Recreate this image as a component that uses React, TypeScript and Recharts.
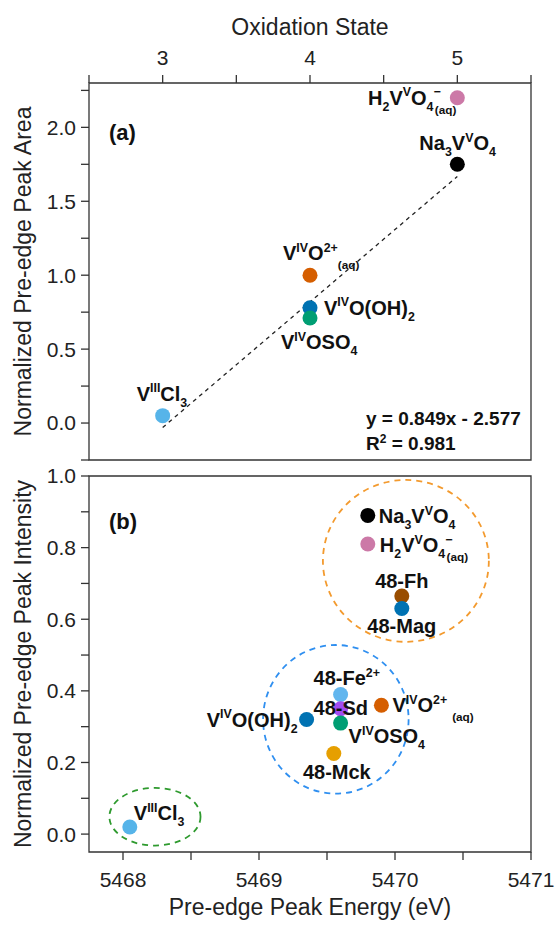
import React from "react";
import {
  ScatterChart,
  Scatter,
  XAxis,
  YAxis,
  ReferenceLine,
  ReferenceArea,
} from "recharts";

const FONT = '"Liberation Sans", Arial, Helvetica, sans-serif';
const INK = "#222";
const FRAME = "#333";

// panel (a): pre-edge peak area against formal oxidation state
const areaNames = ["VCl3", "VO(OH)2", "VOSO4", "VO2+", "Na3VO4", "H2VO4-"];
const areaOxidation = [3, 4, 4, 4, 5, 5];
const areaValues = [0.05, 0.78, 0.71, 1.0, 1.75, 2.2];

// linear fit through the standards
const fitSlope = 0.849;
const fitIntercept = -2.577;
const fitR2 = 0.981;
const fitRange = [3, 5];

const oxidationTicks = [2.5, 3, 3.5, 4, 4.5, 5, 5.5];
const areaTicks = [-0.25, 0, 0.25, 0.5, 0.75, 1, 1.25, 1.5, 1.75, 2, 2.25];

// panel (b): pre-edge peak intensity against pre-edge peak energy
const intensityNames = [
  "Na3VO4",
  "H2VO4-",
  "48-Fh",
  "48-Mag",
  "48-Fe2+",
  "48-Sd",
  "VO(OH)2",
  "VOSO4",
  "VO2+",
  "48-Mck",
  "VCl3",
];
const intensityEnergy = [
  5469.8, 5469.8, 5470.05, 5470.05, 5469.6, 5469.6, 5469.35, 5469.6, 5469.9,
  5469.55, 5468.05,
];
const intensityValues = [
  0.89, 0.81, 0.665, 0.63, 0.39, 0.35, 0.32, 0.31, 0.36, 0.225, 0.02,
];

const energyTicks = [5468, 5468.5, 5469, 5469.5, 5470, 5470.5, 5471];
const intensityTicks = [0, 0.1, 0.2, 0.3, 0.4, 0.5, 0.6, 0.7, 0.8, 0.9, 1.0];

// dashed rings around the V(V), V(IV) and V(III) groups
const groupEnergyMin = [5469.47, 5469.03, 5467.9];
const groupEnergyMax = [5470.69, 5470.1, 5468.57];
const groupIntensityMin = [0.537, 0.113, -0.032];
const groupIntensityMax = [0.989, 0.528, 0.129];

const groupColors = ["#F39A2E", "#2F8FF0", "#2E9A2E"];

const pointColors: Record<string, string> = {
  VCl3: "#56B4E9",
  "VO(OH)2": "#0072B2",
  VOSO4: "#009E73",
  "VO2+": "#D55E00",
  Na3VO4: "#000000",
  "H2VO4-": "#CC79A7",
  "48-Fh": "#994D00",
  "48-Mag": "#0072B2",
  "48-Fe2+": "#62B6EE",
  "48-Sd": "#A24CF0",
  "48-Mck": "#E69F00",
};

type Part = { t: string; s?: "sup" | "sub" | "aq" };

const labelParts: Record<string, Part[]> = {
  VCl3: [{ t: "V" }, { t: "III", s: "sup" }, { t: "Cl" }, { t: "3", s: "sub" }],
  "VO(OH)2": [
    { t: "V" },
    { t: "IV", s: "sup" },
    { t: "O(OH)" },
    { t: "2", s: "sub" },
  ],
  VOSO4: [{ t: "V" }, { t: "IV", s: "sup" }, { t: "OSO" }, { t: "4", s: "sub" }],
  "VO2+": [
    { t: "V" },
    { t: "IV", s: "sup" },
    { t: "O" },
    { t: "2+", s: "sup" },
    { t: "(aq)", s: "aq" },
  ],
  Na3VO4: [
    { t: "Na" },
    { t: "3", s: "sub" },
    { t: "V" },
    { t: "V", s: "sup" },
    { t: "O" },
    { t: "4", s: "sub" },
  ],
  "H2VO4-": [
    { t: "H" },
    { t: "2", s: "sub" },
    { t: "V" },
    { t: "V", s: "sup" },
    { t: "O" },
    { t: "4", s: "sub" },
    { t: "\u2212", s: "sup" },
    { t: "(aq)", s: "aq" },
  ],
  "48-Fh": [{ t: "48-Fh" }],
  "48-Mag": [{ t: "48-Mag" }],
  "48-Fe2+": [{ t: "48-Fe" }, { t: "2+", s: "sup" }],
  "48-Sd": [{ t: "48-Sd" }],
  "48-Mck": [{ t: "48-Mck" }],
};

type Placement = {
  dx: number;
  dy: number;
  anchor?: "start" | "middle" | "end";
  aqGap?: number;
};

// label offsets from the marker centre, in pixels
const areaLabelPlacement: Record<string, Placement> = {
  VCl3: { dx: -26, dy: -15 },
  "VO(OH)2": { dx: 14, dy: 7 },
  VOSO4: { dx: -29, dy: 31 },
  "VO2+": { dx: -27, dy: -15, aqGap: 0 },
  Na3VO4: { dx: -38, dy: -14 },
  "H2VO4-": { dx: -1, dy: 7, anchor: "end" },
};

const intensityLabelPlacement: Record<string, Placement> = {
  Na3VO4: { dx: 11, dy: 8 },
  "H2VO4-": { dx: 12, dy: 8 },
  "48-Fh": { dx: 0, dy: -8, anchor: "middle" },
  "48-Mag": { dx: 0, dy: 25, anchor: "middle" },
  "48-Fe2+": { dx: -27, dy: -9 },
  "48-Sd": { dx: -27, dy: 6 },
  "VO(OH)2": { dx: -9, dy: 7, anchor: "end" },
  VOSO4: { dx: 8, dy: 20 },
  "VO2+": { dx: 11, dy: 7, aqGap: 5 },
  "48-Mck": { dx: 3, dy: 25, anchor: "middle" },
  VCl3: { dx: 4, dy: -7 },
};

const areaData = areaNames.map((name, i) => ({
  name,
  x: areaOxidation[i],
  y: areaValues[i],
}));

const intensityData = intensityNames.map((name, i) => ({
  name,
  x: intensityEnergy[i],
  y: intensityValues[i],
}));

const fitLine = fitRange.map((x) => ({ x, y: fitSlope * x + fitIntercept }));

const LABEL_SIZE = 20;

function RichText({
  x,
  y,
  parts,
  anchor = "start",
  aqGap = 0,
}: {
  x: number;
  y: number;
  parts: Part[];
  anchor?: "start" | "middle" | "end";
  aqGap?: number;
}) {
  const small = LABEL_SIZE * 0.62;
  let level = 0;
  return (
    <text
      x={x}
      y={y}
      textAnchor={anchor}
      fontFamily={FONT}
      fontWeight="bold"
      fontSize={LABEL_SIZE}
      fill="#111"
    >
      {parts.map((p, i) => {
        const target =
          p.s === "sup"
            ? -0.42 * LABEL_SIZE
            : p.s === "sub"
              ? 0.3 * LABEL_SIZE
              : p.s === "aq"
                ? 0.45 * LABEL_SIZE
                : 0;
        const dy = target - level;
        level = target;
        const prev = parts[i - 1];
        let dx = 0;
        if (p.s === "aq") dx = prev && prev.t === "\u2212" ? -6 : aqGap;
        return (
          <tspan
            key={i}
            dx={dx}
            dy={dy}
            fontSize={p.s ? (p.s === "aq" ? small * 0.95 : small) : LABEL_SIZE}
          >
            {p.t}
          </tspan>
        );
      })}
    </text>
  );
}

const Dot = (props: any) => {
  const { cx, cy, payload } = props;
  return <circle cx={cx} cy={cy} r={7.5} fill={pointColors[payload.name]} />;
};

const makeLabelShape = (placement: Record<string, Placement>) => (props: any) => {
  const { cx, cy, payload } = props;
  const p = placement[payload.name];
  return (
    <RichText
      x={cx + p.dx}
      y={cy + p.dy}
      parts={labelParts[payload.name]}
      anchor={p.anchor}
      aqGap={p.aqGap}
    />
  );
};

const Ring = (color: string) => (props: any) => {
  const { x, y, width, height } = props;
  return (
    <ellipse
      cx={x + width / 2}
      cy={y + height / 2}
      rx={width / 2}
      ry={height / 2}
      fill="none"
      stroke={color}
      strokeWidth={1.8}
      strokeDasharray="6 5"
    />
  );
};

const AxisTitleX = (props: any) => {
  const { viewBox, text, baseline } = props;
  return (
    <text
      x={viewBox.x + viewBox.width / 2}
      y={viewBox.y + baseline}
      textAnchor="middle"
      fontFamily={FONT}
      fontSize={23}
      fill={INK}
    >
      {text}
    </text>
  );
};

const AxisTitleY = (props: any) => {
  const { viewBox, text } = props;
  const x = 31;
  const y = viewBox.y + viewBox.height / 2;
  return (
    <text
      x={x}
      y={y}
      transform={`rotate(-90, ${x}, ${y})`}
      textAnchor="middle"
      fontFamily={FONT}
      fontSize={23}
      fill={INK}
    >
      {text}
    </text>
  );
};

const PanelNotes = (props: any) => {
  const { viewBox, tag, tagDy, showFit } = props;
  return (
    <g fontFamily={FONT} fontWeight="bold" fill="#111">
      <text x={viewBox.x + 20} y={viewBox.y + tagDy} fontSize={22}>
        {tag}
      </text>
      {showFit && (
        <>
          <text x={viewBox.x + 277} y={viewBox.y + 342} fontSize={19}>
            {`y = ${fitSlope}x - ${Math.abs(fitIntercept)}`}
          </text>
          <text x={viewBox.x + 277} y={viewBox.y + 367} fontSize={19}>
            R<tspan dy={-7} fontSize={12}>2</tspan>
            <tspan dy={7}>{` = ${fitR2}`}</tspan>
          </text>
        </>
      )}
    </g>
  );
};

const tickStyle = { fill: INK, fontSize: 21, fontFamily: FONT };
const tickLineStyle = { stroke: FRAME, strokeWidth: 1.3 };

const integerOnly = (v: number) => (Number.isInteger(v) ? String(v) : "");
const halfSteps = (v: number) =>
  Number.isInteger(v * 2) ? v.toFixed(1) : "";
const fifthSteps = (v: number) =>
  Math.round(v * 10) % 2 === 0 ? v.toFixed(1) : "";

function AreaPanel() {
  return (
    <ScatterChart
      width={555}
      height={466}
      margin={{ top: 0, right: 24, bottom: 6, left: 0 }}
    >
      <XAxis
        type="number"
        dataKey="x"
        orientation="top"
        height={83}
        domain={[2.5, 5.5]}
        ticks={oxidationTicks}
        interval={0}
        tickFormatter={integerOnly}
        tick={tickStyle}
        tickLine={tickLineStyle}
        tickSize={8}
        tickMargin={10}
        axisLine={false}
        allowDataOverflow
        label={<AxisTitleX text="Oxidation State" baseline={35} />}
      />
      <YAxis
        type="number"
        dataKey="y"
        width={89}
        domain={[-0.25, 2.3]}
        ticks={areaTicks}
        interval={0}
        tickFormatter={halfSteps}
        tick={tickStyle}
        tickLine={tickLineStyle}
        tickSize={8}
        tickMargin={5}
        axisLine={false}
        allowDataOverflow
        label={<AxisTitleY text="Normalized Pre-edge Peak Area" />}
      />
      <ReferenceArea
        x1={2.5}
        x2={5.5}
        y1={-0.25}
        y2={2.3}
        fill="none"
        stroke={FRAME}
        strokeWidth={1.3}
        label={<PanelNotes tag="(a)" tagDy={57} showFit />}
      />
      <ReferenceLine
        segment={fitLine}
        stroke="#222"
        strokeWidth={1.3}
        strokeDasharray="4 4"
      />
      <Scatter data={areaData} shape={Dot} isAnimationActive={false} />
      <Scatter
        data={areaData}
        shape={makeLabelShape(areaLabelPlacement)}
        isAnimationActive={false}
      />
    </ScatterChart>
  );
}

function IntensityPanel() {
  return (
    <ScatterChart
      width={555}
      height={477}
      margin={{ top: 26, right: 24, bottom: 0, left: 0 }}
    >
      <XAxis
        type="number"
        dataKey="x"
        height={75}
        domain={[5467.75, 5471]}
        ticks={energyTicks}
        interval={0}
        tickFormatter={integerOnly}
        tick={tickStyle}
        tickLine={tickLineStyle}
        tickSize={8}
        tickMargin={12}
        axisLine={false}
        allowDataOverflow
        label={<AxisTitleX text="Pre-edge Peak Energy (eV)" baseline={63} />}
      />
      <YAxis
        type="number"
        dataKey="y"
        width={89}
        domain={[-0.05, 1.0]}
        ticks={intensityTicks}
        interval={0}
        tickFormatter={fifthSteps}
        tick={tickStyle}
        tickLine={tickLineStyle}
        tickSize={8}
        tickMargin={5}
        axisLine={false}
        allowDataOverflow
        label={<AxisTitleY text="Normalized Pre-edge Peak Intensity" />}
      />
      <ReferenceArea
        x1={5467.75}
        x2={5471}
        y1={-0.05}
        y2={1.0}
        fill="none"
        stroke={FRAME}
        strokeWidth={1.3}
        label={<PanelNotes tag="(b)" tagDy={53} />}
      />
      {groupColors.map((color, i) => (
        <ReferenceArea
          key={color}
          x1={groupEnergyMin[i]}
          x2={groupEnergyMax[i]}
          y1={groupIntensityMin[i]}
          y2={groupIntensityMax[i]}
          shape={Ring(color)}
        />
      ))}
      <Scatter data={intensityData} shape={Dot} isAnimationActive={false} />
      <Scatter
        data={intensityData}
        shape={makeLabelShape(intensityLabelPlacement)}
        isAnimationActive={false}
      />
    </ScatterChart>
  );
}

export default function App() {
  return (
    <div
      style={{
        position: "absolute",
        left: 0,
        top: 0,
        width: 555,
        height: 927,
        background: "#fff",
      }}
    >
      <div style={{ position: "absolute", left: 0, top: 0 }}>
        <AreaPanel />
      </div>
      <div style={{ position: "absolute", left: 0, top: 450 }}>
        <IntensityPanel />
      </div>
    </div>
  );
}
